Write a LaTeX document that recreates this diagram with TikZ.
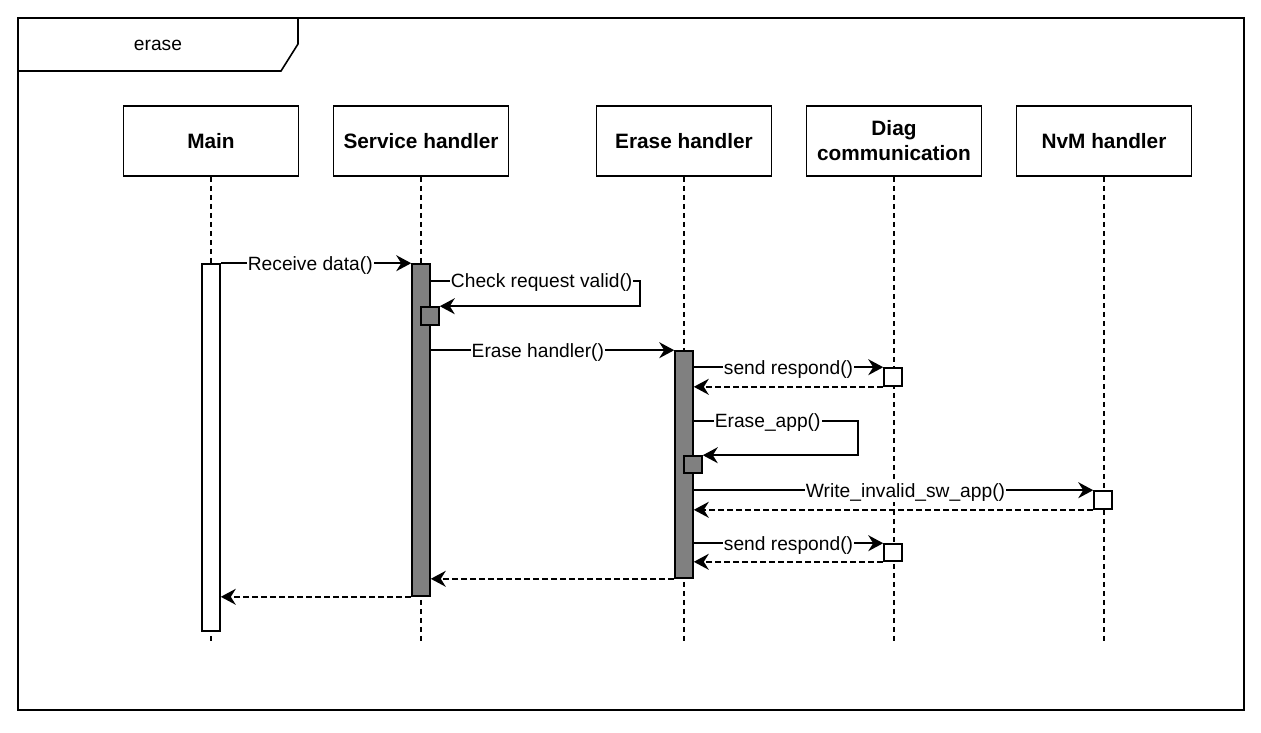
\documentclass[tikz,border=0pt]{standalone}
\usepackage{fontspec}
\setmainfont{Liberation Sans}
\usetikzlibrary{positioning}
\usetikzlibrary{arrows.meta}

\begin{document}
\begin{tikzpicture}[x=1pt, y=-1pt, line width=1.6pt,
    head/.style={draw, minimum width=175pt, minimum height=70pt, align=center,
        font=\fontsize{20.8}{25}\selectfont\bfseries},
    life/.style={dash pattern=on 5pt off 4pt},
    bar/.style={draw, fill=gray, minimum width=18pt, inner sep=0pt},
    box/.style={draw, fill=white, minimum width=18pt, minimum height=18pt, inner sep=0pt},
    call/.style={-{Stealth[length=15pt, width=16pt, inset=5pt]}},
    back/.style={call, dash pattern=on 6pt off 3pt},
    msg/.style={fill=white, inner sep=1pt, yshift=-2pt, font=\fontsize{19.2}{22}\selectfont}]
    \useasboundingbox (0,0) rectangle (1261,732);

    % frame
    \draw (18,18) rectangle (1244,710);
    \draw (18,71) -- (281,71) -- (298,44) -- (298,18);
    \node[font=\fontsize{19.2}{22}\selectfont] (frame) at (158,45) {erase};

    % lifelines
    \node[head] (main) at (211,141) {Main};
    \node[head, right=33.4pt of main] (svc) {Service handler};
    \node[head, right=86.4pt of svc] (erase) {Erase handler};
    \node[head, right=33.4pt of erase] (diag) {Diag\\communication};
    \node[head, right=33.4pt of diag] (nvm) {NvM handler};
    \foreach \n in {main, svc, erase, diag, nvm}
        \draw[life] (\n.south) -- (\n.south |- 0,642);

    % activations
    \node[box, minimum height=367pt] (mainAct) at (211,447.5) {};
    \node[bar, minimum height=332pt] (svcAct) at (421,430) {};
    \node[bar, minimum height=18pt] (svcSelf) at (430,316) {};
    \node[bar, minimum height=227pt] (eraseAct) at (684,464.5) {};
    \node[bar, minimum height=17pt] (eraseSelf) at (693,464.5) {};
    \node[box] (diagAct1) at (893,377) {};
    \node[box] (nvmAct) at (1103,500) {};
    \node[box, minimum height=17pt] (diagAct2) at (893,552.5) {};

    % messages
    \draw[call] (mainAct.north east) -- node[msg, pos=0.47] {Receive data()} (svcAct.north west);
    \draw[call] (svcAct.east |- 0,281) -- node[msg, pos=0.53] {Check request valid()} (640,281)
        -- (640,0 |- svcSelf.north east) -- (svcSelf.north east);
    \draw[call] (svcAct.east |- eraseAct.north) -- node[msg, pos=0.44] {Erase handler()} (eraseAct.north west);
    \draw[call] (eraseAct.east |- diagAct1.north) -- node[msg] {send respond()} (diagAct1.north west);
    \draw[back] (diagAct1.south west) -- (eraseAct.east |- diagAct1.south);
    \draw[call] (eraseAct.east |- 0,421) -- node[msg, pos=0.45] {Erase\_app()} (858,421)
        -- (858,0 |- eraseSelf.north east) -- (eraseSelf.north east);
    \draw[call] (eraseAct.east |- nvmAct.north) -- node[msg, pos=0.53] {Write\_invalid\_sw\_app()} (nvmAct.north west);
    \draw[back] (nvmAct.south west) -- (eraseAct.east |- nvmAct.south);
    \draw[call] (eraseAct.east |- diagAct2.north) -- node[msg] {send respond()} (diagAct2.north west);
    \draw[back] (diagAct2.south west) -- (eraseAct.east |- diagAct2.south);
    \draw[back] (eraseAct.south west) -- (svcAct.east |- eraseAct.south);
    \draw[back] (svcAct.south west) -- (mainAct.east |- svcAct.south);
\end{tikzpicture}
\end{document}
